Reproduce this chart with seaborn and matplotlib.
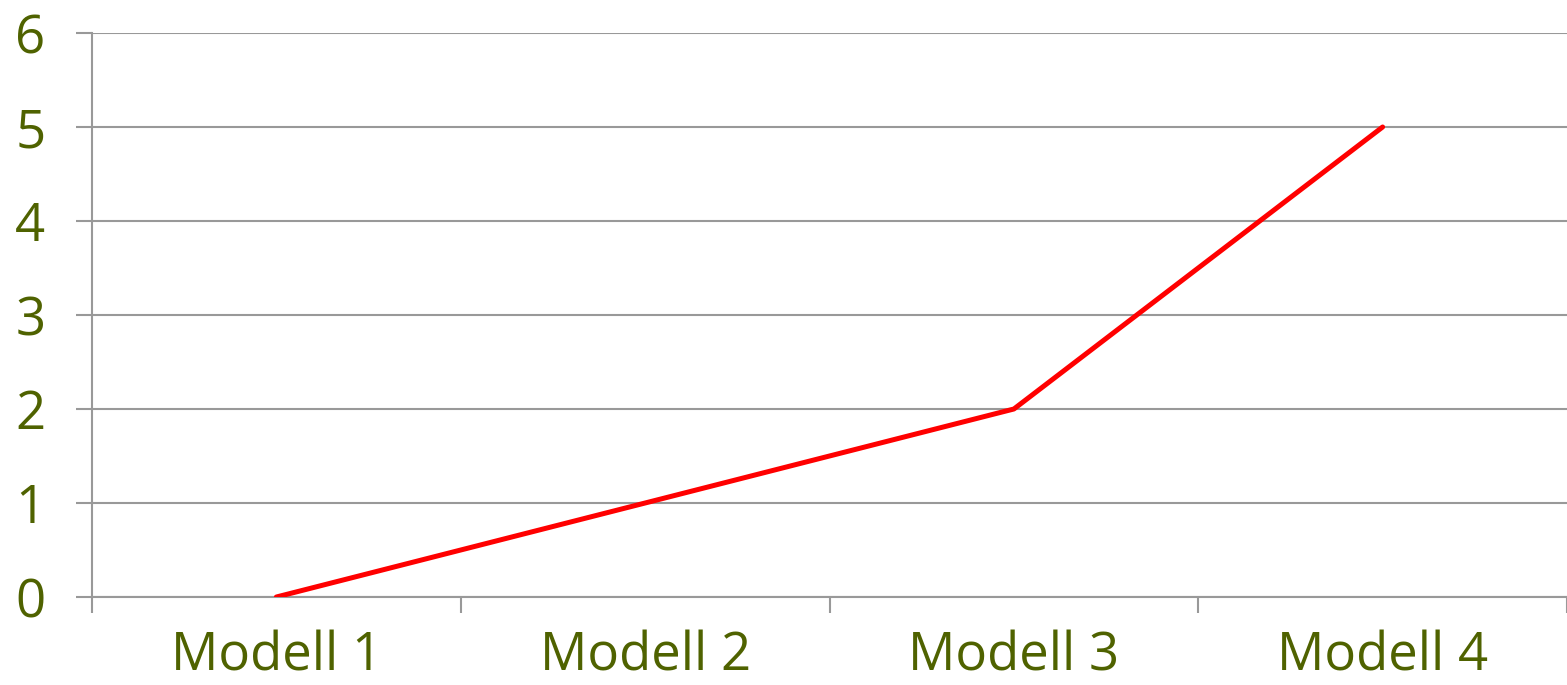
import matplotlib
matplotlib.use("Agg")
import matplotlib.pyplot as plt
import seaborn as sns
import pandas as pd
from matplotlib.ticker import FixedLocator, NullFormatter

categories = ["Modell 1", "Modell 2", "Modell 3", "Modell 4"]
values = [0, 1, 2, 5]
y_ticks = [0, 1, 2, 3, 4, 5, 6]

sns.set_theme(style="white")
plt.rcParams["font.family"] = ["Open Sans", "DejaVu Sans"]

text_color = "#4F6200"
grid_color = "#999999"

df = pd.DataFrame({"model": categories, "value": values})

fig = plt.figure(figsize=(15.67, 6.85), dpi=100)
ax = fig.add_axes([92 / 1567, 88 / 685, 1 - 92 / 1567, (597 - 33) / 685])

sns.lineplot(data=df, x="model", y="value", ax=ax, color="#FF0000",
             linewidth=3.6, sort=False, zorder=3)

n = len(categories)
ax.set_xlim(-0.5, n - 0.5)
ax.set_ylim(0, 6)
ax.set_yticks(y_ticks)
ax.yaxis.grid(True, color=grid_color, linewidth=1.5)
ax.set_axisbelow(True)

# category boundaries carry the tick marks, centres carry the labels
ax.xaxis.set_major_locator(FixedLocator([i - 0.5 for i in range(n + 1)]))
ax.xaxis.set_major_formatter(NullFormatter())
ax.xaxis.set_minor_locator(FixedLocator(list(range(n))))
ax.set_xticklabels(categories, minor=True)

ax.tick_params(axis="x", which="major", length=11.5, width=1.5, color=grid_color, bottom=True)
ax.tick_params(axis="x", which="minor", length=0, pad=24, labelsize=38, labelcolor=text_color, bottom=True)
ax.tick_params(axis="y", which="major", length=11.5, width=1.5, color=grid_color, left=True,
               pad=22, labelsize=38, labelcolor=text_color)

for side in ["top", "right"]:
    ax.spines[side].set_visible(False)
for side in ["left", "bottom"]:
    ax.spines[side].set_color(grid_color)
    ax.spines[side].set_linewidth(1.5)

ax.set_xlabel("")
ax.set_ylabel("")

fig.savefig("out.png", dpi=100)
